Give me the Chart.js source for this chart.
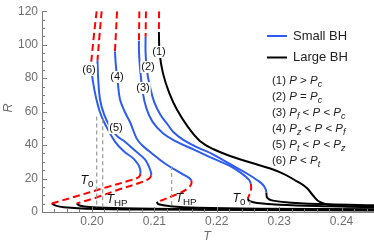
<!DOCTYPE html>
<html>
<head>
<meta charset="utf-8">
<script src="https://cdn.jsdelivr.net/npm/chart.js@4.4.1/dist/chart.umd.min.js"></script>
<style>
  html, body { margin: 0; padding: 0; background: #fff; }
  #wrap { width: 374px; height: 249px; }
</style>
</head>
<body>
<div id="wrap"><canvas id="myChart"></canvas></div>
<script>
// axis ticks
const xTicks = [0.20, 0.21, 0.22, 0.23, 0.24];
const yTicks = [0, 20, 40, 60, 80, 100, 120];

// (1) P > Pc
const c1Unstable = [[0.21076, 120], [0.21073, 107.6]];
const c1Large = [[0.21073, 107.6], [0.21085, 95], [0.21138, 83], [0.21240, 71], [0.21357, 61.6], [0.21538, 50.9],
  [0.2173, 42.5], [0.2195, 37.5], [0.2225, 33], [0.2250, 30], [0.2300, 24], [0.2330, 18], [0.2344, 14.5],
  [0.2354, 10], [0.2365, 6], [0.2385, 4], [0.2420, 3.4], [0.2452, 3.2]];

// (2) P = Pc
const c2Unstable = [[0.20866, 120], [0.20860, 104.7]];
const c2Small = [[0.20860, 104.7], [0.2086, 95], [0.2088, 85], [0.2093, 75], [0.2100, 65.5], [0.2110, 58],
  [0.2122, 52], [0.2130, 48], [0.21458, 43.3], [0.2170, 38.5], [0.21938, 34.5], [0.2221, 28.7],
  [0.22483, 23], [0.2265, 19], [0.2274, 16.3], [0.22785, 13.5], [0.22795, 11.5]];
const c2Large = [[0.22795, 11.5], [0.2281, 8.5], [0.2290, 6.8], [0.2320, 5.6], [0.2380, 4.6], [0.2452, 4.1]];

// (3) Pf < P < Pc
const c3Unstable = [[0.20760, 120], [0.20753, 102.3]];
const c3Small = [[0.20753, 102.3], [0.20755, 95], [0.20769, 87.1], [0.20812, 71.9], [0.20876, 61.6], [0.2097, 54],
  [0.21138, 47], [0.2133, 42.5], [0.2165, 37], [0.21938, 32], [0.2221, 27.5], [0.22419, 22.5],
  [0.22515, 19.3], [0.22547, 17]];
const c3Mid = [[0.22547, 17], [0.22550, 13.5], [0.22520, 10], [0.22499, 8.2]];
const c3Large = [[0.22499, 8.2], [0.2252, 6.6], [0.2265, 5.4], [0.2300, 4.3], [0.2380, 3.4], [0.2452, 2.9]];

// (4) Pz < P < Pf
const c4Unstable = [[0.20403, 120], [0.20369, 95.9]];
const c4Small = [[0.20369, 95.9], [0.20385, 87], [0.20412, 78.5], [0.20449, 67.4], [0.2053, 59.6], [0.2061, 53.8],
  [0.20716, 44], [0.2080, 40], [0.20929, 36], [0.2117, 29], [0.21458, 22.5], [0.2155, 20.5], [0.21595, 19]];
const c4Mid = [[0.21595, 19], [0.2159, 16.5], [0.2153, 14], [0.2142, 11.5], [0.2128, 9.4], [0.2115, 7.4], [0.21037, 6]];
const c4Large = [[0.21037, 6], [0.2107, 4.6], [0.2125, 3.5], [0.2170, 2.6], [0.2270, 2.0], [0.2452, 1.7]];

// (5) Pt < P < Pz
const c5Unstable = [[0.20156, 120], [0.20120, 105], [0.20089, 90.6]];
const c5Small = [[0.20089, 90.6], [0.2010, 80], [0.20129, 67.4], [0.20193, 58.5], [0.20289, 50.9], [0.2040, 45.5],
  [0.20529, 42], [0.2068, 37], [0.20849, 31.5], [0.20915, 27], [0.20948, 23.5], [0.2095, 22]];
const c5Mid = [[0.2095, 22], [0.2092, 20], [0.20769, 17.5], [0.2040, 13], [0.2005, 8.4], [0.19756, 5.1]];
const c5Large = [[0.19756, 5.1], [0.1980, 3.9], [0.1996, 3.0], [0.2050, 2.2], [0.2173, 1.7], [0.2452, 1.3]];

// (6) P < Pt
const c6Unstable = [[0.20076, 120], [0.20030, 105], [0.19985, 88]];
const c6Small = [[0.19985, 88], [0.20012, 78.9], [0.20065, 68.4], [0.20129, 59.6], [0.20209, 52.6], [0.20369, 42.1],
  [0.2052, 36], [0.20657, 32.2], [0.20737, 28.7], [0.20769, 26], [0.2078, 23]];
const c6Mid = [[0.2078, 23], [0.2075, 20.8], [0.2060, 18.8], [0.20236, 14.8], [0.19696, 8.8], [0.19355, 5.1]];
const c6Large = [[0.19355, 5.1], [0.1942, 3.8], [0.1955, 2.8], [0.1990, 2.0], [0.2080, 1.5], [0.2452, 0.9]];

// T0 / THP markers
const markA = [[0.20076, 57], [0.20076, 2.5]];
const markB = [[0.20172, 55.5], [0.20172, 2.3]];
const markC = [[0.21277, 27.5], [0.21277, 2.2]];
const markD = [[0.2253, 6.5], [0.2253, 2.6]];

const legendNames = ["Small BH", "Large BH"];
const curveNames = ["(1)", "(2)", "(3)", "(4)", "(5)", "(6)"];
const notes = [
  [["(1) "], ["P", 1], [" > "], ["P", 1], ["c", 1, 1]],
  [["(2) "], ["P", 1], [" = "], ["P", 1], ["c", 1, 1]],
  [["(3) "], ["P", 1], ["f", 1, 1], [" < "], ["P", 1], [" < "], ["P", 1], ["c", 1, 1]],
  [["(4) "], ["P", 1], ["z", 1, 1], [" < "], ["P", 1], [" < "], ["P", 1], ["f", 1, 1]],
  [["(5) "], ["P", 1], ["t", 1, 1], [" < "], ["P", 1], [" < "], ["P", 1], ["z", 1, 1]],
  [["(6) "], ["P", 1], [" < "], ["P", 1], ["t", 1, 1]]
];

const BLUE = "#2d5cf0", RED = "#ff0000", BLACK = "#000000", GRAY = "#a0a0a0", AXIS = "#7c7c7c";
const FONT = "'Liberation Sans', Arial, sans-serif";

function line(pts, color, dashed) {
  return {
    data: pts.map(p => ({x: p[0], y: p[1]})),
    showLine: true,
    borderColor: color,
    backgroundColor: color,
    borderWidth: 2,
    borderDash: dashed ? [7, 4] : [],
    pointRadius: 0,
    tension: 0.4
  };
}

function mark(pts) {
  return {
    data: pts.map(p => ({x: p[0], y: p[1]})),
    showLine: true,
    borderColor: GRAY,
    borderWidth: 1.3,
    borderDash: [4, 3],
    pointRadius: 0,
    tension: 0
  };
}

function rich(ctx, parts, x, y, size, align) {
  let w = 0;
  const items = parts.map(p => {
    const s = p[2] ? size * 0.78 : size;
    const f = (p[1] ? "italic " : "") + s + "px " + FONT;
    ctx.font = f;
    const iw = ctx.measureText(p[0]).width;
    w += iw;
    return {t: p[0], f: f, iw: iw, dy: p[2] ? size * 0.3 : 0};
  });
  let cx = align === "center" ? x - w / 2 : x;
  ctx.textAlign = "left";
  ctx.textBaseline = "middle";
  items.forEach(it => {
    ctx.font = it.f;
    ctx.fillText(it.t, cx, y + it.dy);
    cx += it.iw;
  });
  return w;
}

const extras = {
  id: "extras",
  afterDraw(chart) {
    const ctx = chart.ctx;
    const xs = chart.scales.x, ys = chart.scales.y;
    const left = chart.chartArea.left, bottom = chart.chartArea.bottom;
    ctx.save();

    // inward tick marks
    ctx.strokeStyle = AXIS;
    ctx.lineWidth = 1;
    ctx.beginPath();
    for (let v = 0; v <= 120; v += 5) {
      const y = Math.round(ys.getPixelForValue(v)) + 0.5;
      const len = v % 20 === 0 ? 5 : 3;
      ctx.moveTo(left, y);
      ctx.lineTo(left + len, y);
    }
    for (let k = 97; k <= 122; k++) {
      const x = Math.round(xs.getPixelForValue(k * 0.002)) + 0.5;
      const len = k % 5 === 0 ? 5 : 3;
      ctx.moveTo(x, bottom);
      ctx.lineTo(x, bottom - len);
    }
    ctx.stroke();

    // axis titles
    ctx.fillStyle = "#6e6e6e";
    ctx.font = "italic 12.5px " + FONT;
    ctx.textAlign = "center";
    ctx.textBaseline = "middle";
    ctx.fillText("T", 207, 237);
    ctx.save();
    ctx.translate(9, 108);
    ctx.rotate(-Math.PI / 2);
    ctx.fillText("R", 0, 0);
    ctx.restore();

    // curve labels
    const spots = [[159, 52], [148, 67], [143, 88], [117, 77], [116, 128], [89, 70]];
    ctx.font = "11px " + FONT;
    curveNames.forEach((n, i) => {
      const w = ctx.measureText(n).width;
      ctx.fillStyle = "#fff";
      ctx.fillRect(spots[i][0] - w / 2 - 1, spots[i][1] - 6, w + 2, 12);
      ctx.fillStyle = "#111";
      ctx.textAlign = "center";
      ctx.fillText(n, spots[i][0], spots[i][1]);
    });

    // T0 / THP labels
    ctx.fillStyle = "#111";
    rich(ctx, [["T", 1], ["0", 0, 1]], 87, 181, 12.5, "center");
    rich(ctx, [["T", 1], ["HP", 0, 1]], 117, 200, 12.5, "center");
    rich(ctx, [["T", 1], ["HP", 0, 1]], 186, 199, 12.5, "center");
    rich(ctx, [["T", 1], ["0", 0, 1]], 239, 199, 12.5, "center");

    // legend
    [[BLUE, 36], [BLACK, 57.5]].forEach((l, i) => {
      ctx.strokeStyle = l[0];
      ctx.lineWidth = 2;
      ctx.beginPath();
      ctx.moveTo(267, l[1]);
      ctx.lineTo(287, l[1]);
      ctx.stroke();
      ctx.fillStyle = "#222";
      ctx.font = "13px " + FONT;
      ctx.textAlign = "left";
      ctx.fillText(legendNames[i], 293, l[1]);
    });

    // pressure notes
    ctx.fillStyle = "#222";
    notes.forEach((n, i) => rich(ctx, n, 272, 81 + 16 * i, 11.5, "left"));

    ctx.restore();
  }
};

new Chart("myChart", {
  type: "scatter",
  data: {
    datasets: [
      mark(markA), mark(markB), mark(markC), mark(markD),
      line(c1Unstable, RED, true), line(c1Large, BLACK),
      line(c2Unstable, RED, true), line(c2Small, BLUE), line(c2Large, BLACK),
      line(c3Unstable, RED, true), line(c3Small, BLUE), line(c3Mid, RED, true), line(c3Large, BLACK),
      line(c4Unstable, RED, true), line(c4Small, BLUE), line(c4Mid, RED, true), line(c4Large, BLACK),
      line(c5Unstable, RED, true), line(c5Small, BLUE), line(c5Mid, RED, true), line(c5Large, BLACK),
      line(c6Unstable, RED, true), line(c6Small, BLUE), line(c6Mid, RED, true), line(c6Large, BLACK)
    ]
  },
  options: {
    responsive: true,
    maintainAspectRatio: false,
    animation: false,
    layout: {padding: {top: 7, right: 0, left: 0, bottom: 0}},
    plugins: {
      legend: {display: false},
      tooltip: {enabled: false}
    },
    scales: {
      x: {
        type: "linear",
        min: 0.192,
        max: 0.2452,
        afterBuildTicks: s => { s.ticks = xTicks.map(v => ({value: v})); },
        afterFit: s => { s.height = 37; },
        grid: {display: false, drawTicks: false},
        border: {display: true, color: AXIS, width: 1},
        ticks: {
          padding: 2,
          color: "#6e6e6e",
          font: {family: FONT, size: 12},
          maxRotation: 0,
          callback: v => v.toFixed(2)
        }
      },
      y: {
        min: 0,
        max: 120,
        afterBuildTicks: s => { s.ticks = yTicks.map(v => ({value: v})); },
        afterFit: s => { s.width = 42; },
        grid: {display: false, drawTicks: false},
        border: {display: true, color: AXIS, width: 1},
        ticks: {
          padding: 4,
          color: "#6e6e6e",
          font: {family: FONT, size: 12},
          callback: v => String(v)
        }
      }
    }
  },
  plugins: [extras]
});
</script>
</body>
</html>
